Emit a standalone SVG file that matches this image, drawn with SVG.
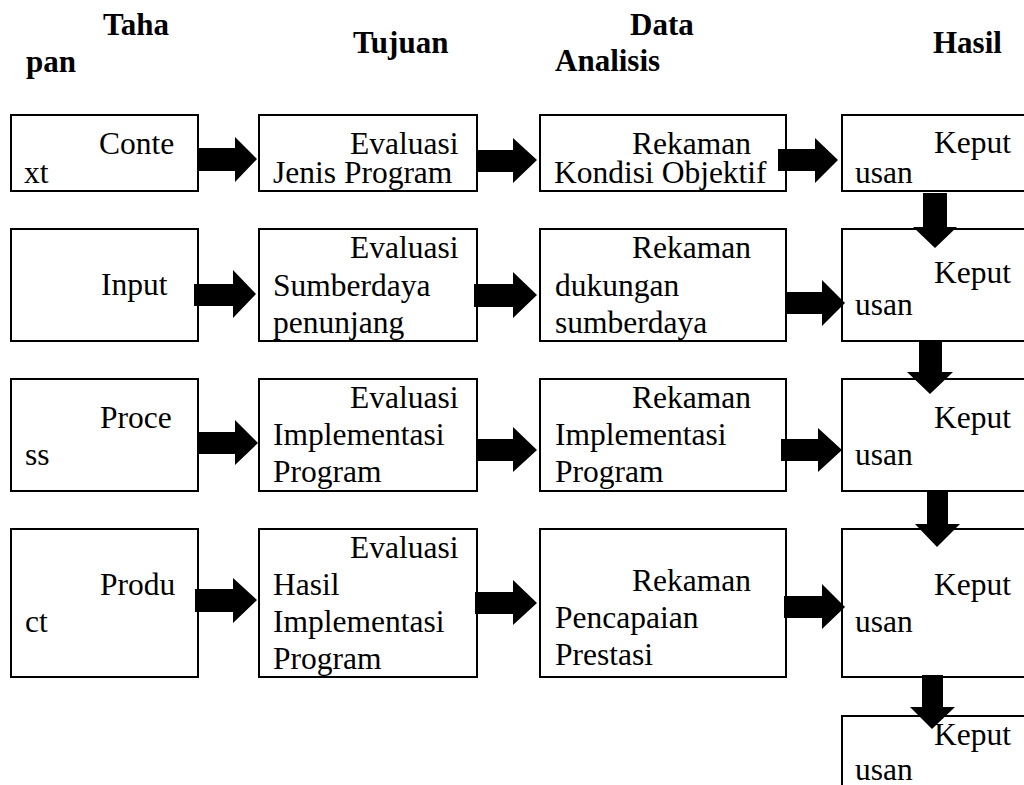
<svg xmlns="http://www.w3.org/2000/svg" width="1024" height="785" viewBox="0 0 1024 785">
<style>
.box{fill:#fff;stroke:#000;stroke-width:2}
.t{font-family:"Liberation Serif","Times New Roman",serif;font-size:31.5px;fill:#000}
.h{font-family:"Liberation Serif","Times New Roman",serif;font-size:31px;font-weight:bold;fill:#000}
.arr{fill:#000;stroke:none}
</style>
<rect width="1024" height="785" fill="#fff"/>
<g id="headers">
<text class="h" x="103" y="35">Taha</text>
<text class="h" x="26" y="72">pan</text>
<text class="h" x="353" y="53">Tujuan</text>
<text class="h" x="630" y="35">Data</text>
<text class="h" x="555" y="71">Analisis</text>
<text class="h" x="933" y="53">Hasil</text>
</g>
<g id="node-context"><rect class="box" x="11" y="115" width="187" height="76"/>
<text class="t" x="99" y="154">Conte</text><text class="t" x="24" y="183">xt</text></g>
<g id="node-input"><rect class="box" x="11" y="229" width="187" height="112"/>
<text class="t" x="101" y="295">Input</text></g>
<g id="node-process"><rect class="box" x="11" y="379" width="187" height="112"/>
<text class="t" x="100" y="428">Proce</text><text class="t" x="25" y="465">ss</text></g>
<g id="node-product"><rect class="box" x="11" y="529" width="187" height="148"/>
<text class="t" x="100" y="595">Produ</text><text class="t" x="25" y="632">ct</text></g>
<g id="node-eval1"><rect class="box" x="259" y="115" width="218" height="76"/>
<text class="t" x="350" y="154">Evaluasi</text><text class="t" x="273" y="183">Jenis Program</text></g>
<g id="node-eval2"><rect class="box" x="259" y="229" width="218" height="112"/>
<text class="t" x="350" y="258">Evaluasi</text><text class="t" x="273" y="296">Sumberdaya</text><text class="t" x="273" y="333">penunjang</text></g>
<g id="node-eval3"><rect class="box" x="259" y="379" width="218" height="112"/>
<text class="t" x="350" y="408">Evaluasi</text><text class="t" x="273" y="445">Implementasi</text><text class="t" x="273" y="482">Program</text></g>
<g id="node-eval4"><rect class="box" x="259" y="529" width="218" height="148"/>
<text class="t" x="350" y="558">Evaluasi</text><text class="t" x="273" y="595">Hasil</text><text class="t" x="273" y="632">Implementasi</text><text class="t" x="273" y="669">Program</text></g>
<g id="node-rek1"><rect class="box" x="540" y="115" width="246" height="76"/>
<text class="t" x="632" y="154">Rekaman</text><text class="t" x="554" y="183">Kondisi Objektif</text></g>
<g id="node-rek2"><rect class="box" x="540" y="229" width="246" height="112"/>
<text class="t" x="632" y="258">Rekaman</text><text class="t" x="555" y="296">dukungan</text><text class="t" x="555" y="333">sumberdaya</text></g>
<g id="node-rek3"><rect class="box" x="540" y="379" width="246" height="112"/>
<text class="t" x="632" y="408">Rekaman</text><text class="t" x="555" y="445">Implementasi</text><text class="t" x="555" y="482">Program</text></g>
<g id="node-rek4"><rect class="box" x="540" y="529" width="246" height="148"/>
<text class="t" x="632" y="591">Rekaman</text><text class="t" x="555" y="628">Pencapaian</text><text class="t" x="555" y="665">Prestasi</text></g>
<g id="node-kep1"><rect class="box" x="842" y="115" width="190" height="76"/>
<text class="t" x="934" y="153">Keput</text><text class="t" x="855" y="183">usan</text></g>
<g id="node-kep2"><rect class="box" x="842" y="229" width="190" height="112"/>
<text class="t" x="934" y="283">Keput</text><text class="t" x="855" y="315">usan</text></g>
<g id="node-kep3"><rect class="box" x="842" y="379" width="190" height="112"/>
<text class="t" x="934" y="428">Keput</text><text class="t" x="855" y="465">usan</text></g>
<g id="node-kep4"><rect class="box" x="842" y="529" width="190" height="148"/>
<text class="t" x="934" y="595">Keput</text><text class="t" x="855" y="632">usan</text></g>
<g id="node-kep5"><rect class="box" x="842" y="716" width="190" height="90"/>
<text class="t" x="934" y="745">Keput</text><text class="t" x="855" y="780">usan</text></g>
<g id="connectors" class="arr">
<polygon points="197,148 235,148 235,137 257,159 235,182 235,171 197,171"/>
<polygon points="194,284 233,284 233,270 256,294 233,318 233,306 194,306"/>
<polygon points="198,432 235,432 235,420 258,443 235,465 235,454 198,454"/>
<polygon points="195,589 233,589 233,578 257,600 233,623 233,612 195,612"/>
<polygon points="476,150 513,150 513,138 537,160 513,183 513,172 476,172"/>
<polygon points="474,284 513,284 513,272 537,295 513,318 513,307 474,307"/>
<polygon points="476,439 513,439 513,427 537,450 513,472 513,461 476,461"/>
<polygon points="475,592 513,592 513,580 537,603 513,625 513,614 475,614"/>
<polygon points="778,149 815,149 815,138 838,160 815,183 815,171 778,171"/>
<polygon points="785,292 822,292 822,280 845,303 822,326 822,314 785,314"/>
<polygon points="781,439 818,439 818,428 842,450 818,472 818,461 781,461"/>
<polygon points="784,596 822,596 822,584 845,607 822,629 822,618 784,618"/>
<polygon points="923,193 947,193 947,227 957,227 935,248 913,227 923,227"/>
<polygon points="919,341 942,341 942,372 953,372 930,394 907,372 919,372"/>
<polygon points="927,491 948,491 948,524 960,524 937,547 915,524 927,524"/>
<polygon points="922,675 943,675 943,707 955,707 932,729 910,707 922,707"/>
</g>
</svg>
